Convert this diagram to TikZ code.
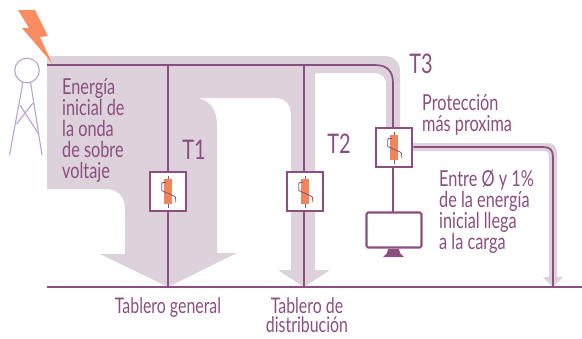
\documentclass[tikz,border=0pt]{standalone}
\usepackage{fontspec}
\setmainfont[FakeStretch=0.74]{Lato}
\usetikzlibrary{calc}
\definecolor{flowcol}{HTML}{DDD1DC}
\definecolor{wire}{HTML}{8A4F80}
\definecolor{orng}{HTML}{F0855C}
\definecolor{bolt}{HTML}{FA8C62}
\definecolor{tower}{HTML}{B9A3CF}
\tikzset{
  wireline/.style={draw=wire,line width=1.7pt},
  boxst/.style={draw=wire,line width=2.1pt,fill=white,minimum width=36.5pt,minimum height=39.5pt,inner sep=0pt},
  lab/.style={text=wire,align=left,anchor=north west,inner sep=0pt,font=\fontsize{22}{21}\selectfont},
  clab/.style={text=wire,align=center,anchor=north,inner sep=0pt,font=\fontsize{21.5}{19.5}\selectfont},
  tlab/.style={text=wire,anchor=center,inner sep=0pt,font=\fontsize{27}{28}\selectfont},
  towerline/.style={draw=tower,line width=1.1pt}
}
\newcommand{\varistor}[1]{%
  \draw[wire,line width=.6pt] ($(#1)+(0,-16)$) -- ($(#1)+(0,16)$);
  \fill[orng] ($(#1)+(-4.3,-12.5)$) rectangle ($(#1)+(4.3,12.5)$);
  \draw[wire,line width=.8pt] ($(#1)+(-2,-9)$) -- ($(#1)+(-5,-9)$) .. controls ($(#1)+(-6.3,-9)$) and ($(#1)+(-6.3,-8)$) .. ($(#1)+(-6.3,-6.5)$) -- ($(#1)+(-6.3,-1)$) -- ($(#1)+(6,4.5)$) .. controls ($(#1)+(7.5,5)$) and ($(#1)+(7.7,6)$) .. ($(#1)+(7.7,8)$) -- ($(#1)+(7.7,10.5)$);
}
\begin{document}
\begin{tikzpicture}[x=1pt,y=-1pt]
\useasboundingbox (0,0) rectangle (582,338);
% shaded energy flow
\fill[flowcol] (47,56) -- (385,56) .. controls (394,56) and (400,62) .. (400,71) -- (400,127)
  -- (386,127) -- (386,85) .. controls (386,77) and (382,73) .. (374,73)
  -- (315,73) -- (315,270) -- (330,270) -- (304,287) -- (278,270) -- (291,270)
  -- (291,115) .. controls (291,104) and (285,98) .. (275,98) -- (197,98)
  .. controls (210,100) and (217,110) .. (217,125) -- (217,253) -- (237,253) -- (168,287)
  -- (100,254) -- (125,254) -- (125,210) .. controls (125,196) and (118,189) .. (105,189) -- (47,189) -- cycle;
\fill[flowcol] (413,143) -- (547,143) .. controls (554,143) and (557,147) .. (557,153) -- (557,277)
  -- (563,277) -- (553,287) -- (543,277) -- (549,277) -- (549,157)
  .. controls (549,152) and (547,151) .. (543,151) -- (413,151) -- cycle;
% tower
\draw[towerline] (27,70.5) circle (12.3);
\draw[towerline] (23,82) -- (9.5,155) (30.5,82) -- (42,155);
\draw[towerline] (20,105) -- (38,133) (33,103) -- (16.5,124);
% bolt
\fill[bolt] (18,10) -- (35,10) -- (48,36) -- (40,37) -- (52,63) -- (22,28) -- (29,28) -- cycle;
% wires
\coordinate (src) at (47,65);
\coordinate (b1) at (168,287);
\coordinate (b2) at (304,287);
\coordinate (b3) at (553,287);
\coordinate (gl) at (47,287);
\coordinate (gr) at (582,287);
\coordinate (t1) at (168,65);
\coordinate (t2) at (304,65);
\node[boxst] (k1) at (168,191.5) {};
\node[boxst] (k2) at (305,191.5) {};
\node[boxst] (k3) at (394,147.5) {};
\node[draw=wire,line width=2.1pt,fill=white,rounded corners=1.5pt,minimum width=55pt,minimum height=35pt,inner sep=0pt] (mon) at (394,230) {};
\draw[wireline] (gl) -- (gr);
\draw[wireline] (t1) -- (k1.north);
\draw[wireline] (k1.south) -- (b1);
\draw[wireline] (t2) -- (t2 |- k2.north);
\draw[wireline] (t2 |- k2.south) -- (b2);
\draw[wireline] (src) -- (375,65) .. controls (387,65) and (393,71) .. (393,83) -- (393,127);
\draw[wireline] (393,168) -- (393,212);
\draw[wireline] (k3.east |- 0,147) -- (543,147) .. controls (550,147) and (553,150) .. (553,157) -- (b3);
\fill[wire] (388,249) -- (399,249) -- (400,253) -- (404,257) -- (383,257) -- (387,253) -- cycle;
\varistor{168,191.5}
\varistor{305,191.5}
\varistor{394,147.5}
% texts
\node[lab] (e) at (62,78) {Energía\\inicial de\\la onda\\de sobre\\voltaje};
\node[tlab] (T1) at (194,150) {T1};
\node[tlab] (T2) at (339,144) {T2};
\node[tlab] (T3) at (421,64) {T3};
\node[lab] (p) at (422,94) {Protección\\más proxima};
\node[lab] (q) at (439,170) {Entre Ø y 1\%\\de la energía\\inicial llega\\a la carga};
\node[clab] (g) at (168,297) {Tablero general};
\node[clab] (d) at (307,297) {Tablero de\\distribución};
\end{tikzpicture}
\end{document}
